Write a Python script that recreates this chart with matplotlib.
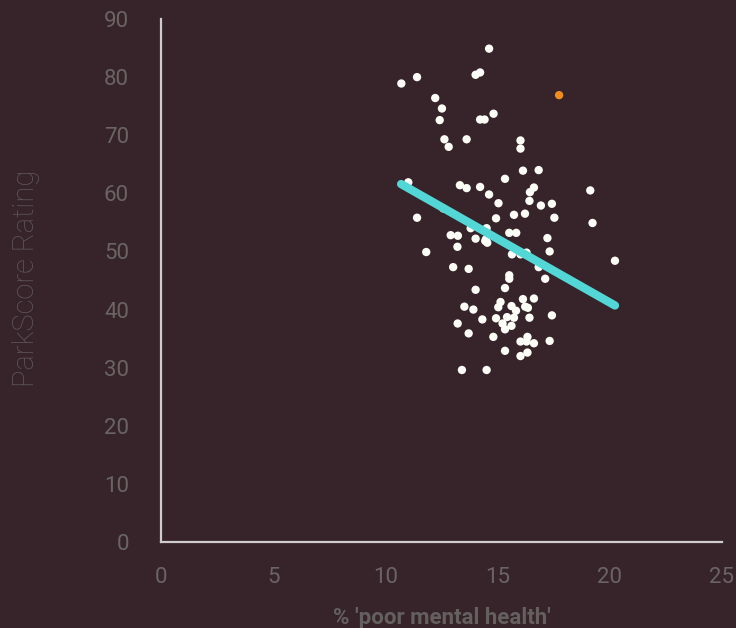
import matplotlib
matplotlib.use("Agg")
import matplotlib.pyplot as plt
import numpy as np

# Data
mental_health = [14.62, 11.41, 10.71, 14.22, 14.02, 12.22, 12.52, 12.42, 14.22, 14.42,
                 14.82, 12.63, 12.82, 13.62, 16.02, 16.02, 16.13, 16.83, 15.33, 19.13,
                 11.02, 13.32, 13.62, 14.22, 14.62, 15.04, 16.62, 16.44, 16.42, 16.93,
                 17.42, 12.58, 11.41, 14.93, 15.73, 16.22, 17.53, 19.23, 13.80, 14.51,
                 12.91, 13.23, 14.02, 14.48, 14.54, 14.45, 15.52, 15.83, 17.22, 13.21,
                 11.82, 15.64, 16.02, 16.29, 17.32, 20.23, 13.02, 13.71, 16.83, 15.52,
                 15.52, 17.12, 14.02, 15.33, 16.13, 16.62, 15.13, 15.03, 15.62, 15.82,
                 16.23, 16.35, 13.52, 13.92, 17.42, 16.42, 14.32, 14.93, 15.42, 15.73,
                 15.22, 15.33, 15.62, 13.22, 13.71, 14.81, 16.33, 16.02, 16.29, 16.62,
                 17.32, 15.33, 16.02, 16.33, 13.41, 14.51]
parkscore = [84.9, 80.0, 78.9, 80.8, 80.4, 76.4, 74.6, 72.6, 72.7, 72.7,
             73.7, 69.3, 68.0, 69.3, 69.1, 67.7, 63.9, 64.0, 62.5, 60.5,
             61.9, 61.4, 60.9, 61.1, 59.8, 58.3, 61.0, 60.2, 58.7, 57.9,
             58.2, 57.4, 55.8, 55.7, 56.3, 56.5, 55.8, 54.9, 54.0, 54.0,
             52.8, 52.7, 52.2, 52.1, 51.5, 51.8, 53.2, 53.2, 52.3, 50.8,
             49.9, 49.5, 49.5, 49.8, 50.0, 48.4, 47.3, 47.0, 47.3, 45.9,
             45.3, 45.3, 43.4, 43.7, 41.8, 41.9, 41.3, 40.4, 40.6, 39.8,
             40.5, 40.3, 40.5, 40.0, 39.0, 38.6, 38.3, 38.5, 38.7, 38.6,
             37.6, 36.6, 37.2, 37.6, 35.9, 35.3, 35.3, 34.5, 34.5, 34.2,
             34.6, 32.9, 32.0, 32.6, 29.6, 29.6]
highlight_x = [17.74]
highlight_y = [76.9]
trend_x = [10.70, 20.23]
trend_y = [61.6, 40.7]

x_ticks = [0, 5, 10, 15, 20, 25]
y_ticks = [0, 10, 20, 30, 40, 50, 60, 70, 80, 90]

BG = "#36242a"
TXT = "#6a6464"
fam = ["Roboto", "DejaVu Sans"]

fig = plt.figure(figsize=(7.36, 6.28), dpi=100, facecolor=BG)
ax = fig.add_axes([161/736, 86/628, (722-161)/736, (542-19)/628])
ax.set_facecolor(BG)

ax.scatter(mental_health, parkscore, s=36, color="#fbfdf6", edgecolors="none", zorder=2)
ax.plot(trend_x, trend_y, color="#52d6d6", linewidth=6, solid_capstyle="round", zorder=3)
ax.scatter(highlight_x, highlight_y, s=36, color="#f28c1c", edgecolors="none", zorder=4)

ax.set_xlim(0, 25)
ax.set_ylim(0, 90)
ax.set_xticks(x_ticks)
ax.set_yticks(y_ticks)
ax.set_xticklabels([str(t) for t in x_ticks], family=fam, fontsize=16, color=TXT)
ax.set_yticklabels([str(t) for t in y_ticks], family=fam, fontsize=16, color=TXT)
ax.tick_params(axis="both", length=0)
ax.tick_params(axis="x", pad=18)
ax.tick_params(axis="y", pad=23)

for s in ["top", "right"]:
    ax.spines[s].set_visible(False)
for s in ["left", "bottom"]:
    ax.spines[s].set_color("#d0cccc")
    ax.spines[s].set_linewidth(1.6)

ax.set_xlabel("% 'poor mental health'", family=fam, fontsize=16, color="#646060",
              fontweight="bold")
ax.xaxis.set_label_coords(0.5, -0.125)
ax.xaxis.label.set_verticalalignment("top")
ax.set_ylabel("ParkScore Rating", family=fam, fontsize=21, color="#605858",
              fontweight="light")
ax.yaxis.set_label_coords(-0.215, 0.505)

fig.savefig("out.png", dpi=100, facecolor=BG)
